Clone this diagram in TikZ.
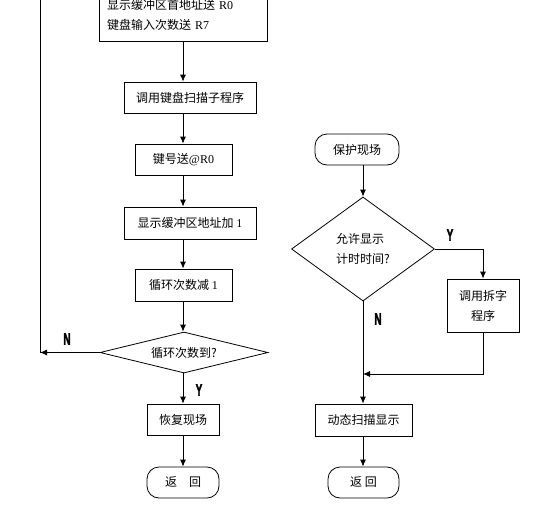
\documentclass[tikz,border=0pt]{standalone}
\usepackage{fontspec}
\setmainfont{Liberation Serif}
\newfontfamily\cjk{Noto Sans CJK SC}
\newfontfamily\ynfont[FakeStretch=0.6,FakeBold=1.5]{Liberation Sans Bold}
\usetikzlibrary{shapes.geometric,arrows.meta}

\begin{document}
\begin{tikzpicture}[
    x=1pt,
    y=-1pt,
    line width=0.8pt,
    every node/.style={font=\cjk\fontsize{12}{20}\selectfont},
    boite/.style={draw, rectangle, inner sep=0pt, align=center},
    arrondi/.style={draw, rectangle, rounded corners=12pt, inner sep=0pt},
    losange/.style={draw, diamond, inner sep=0pt, align=center},
    fleche/.style={-{Latex[length=7pt,width=6pt]}},
    rep/.style={font=\ynfont\fontsize{17}{17}\selectfont}
]
    \useasboundingbox (0,0) rectangle (534,506);
    \clip (0,0) rectangle (534,506);

    % Colonne gauche : boucle de saisie clavier
    \node[boite, minimum height=52pt, text width=152pt, inner xsep=8pt, align=left] (init) at (183,15)
        {显示缓冲区首地址送 {\rmfamily R0}\\键盘输入次数送 {\rmfamily R7}};
    \node[boite, minimum width=132pt, minimum height=31pt] (scan) at (190,97.5) {调用键盘扫描子程序};
    \node[boite, minimum width=97pt, minimum height=31pt] (code) at (183.5,159.5) {键号送{\rmfamily @R0}};
    \node[boite, minimum width=132pt, minimum height=32pt] (incr) at (190,223) {显示缓冲区地址加 {\rmfamily 1}};
    \node[boite, minimum width=97pt, minimum height=32pt] (decr) at (183.5,285) {循环次数减 {\rmfamily 1}};
    \node[losange, aspect=4.1, minimum width=168pt, minimum height=41pt] (fin) at (184,352.5) {循环次数到?};
    \node[boite, minimum width=72pt, minimum height=31pt] (rest) at (183,419.5) {恢复现场};
    \node[arrondi, minimum width=72pt, minimum height=31pt] (ret1) at (183,482.5) {返\quad 回};

    % Colonne droite : interruption d'affichage
    \node[arrondi, minimum width=84pt, minimum height=31pt] (prot) at (357,149.5) {保护现场};
    \node[losange, aspect=1.4, minimum width=143pt, minimum height=104pt, align=left] (perm) at (363,249) {允许显示\\计时时间?};
    \node[boite, minimum width=72pt, minimum height=53pt] (split) at (483,305.5) {调用拆字\\程序};
    \node[boite, minimum width=97pt, minimum height=32pt] (disp) at (363.5,420) {动态扫描显示};
    \node[arrondi, minimum width=71pt, minimum height=31pt] (ret2) at (363.5,482.5) {返\ 回};

    % Points de passage
    \coordinate (back) at (40,352.5);
    \coordinate (backtop) at (40,-5);
    \coordinate (join) at (363,374);

    % Liaisons colonne gauche
    \draw[fleche] (init.south) -- (init.south |- scan.north);
    \draw[fleche] (init.south |- scan.south) -- (init.south |- code.north);
    \draw[fleche] (init.south |- code.south) -- (init.south |- incr.north);
    \draw[fleche] (init.south |- incr.south) -- (init.south |- decr.north);
    \draw[fleche] (init.south |- decr.south) -- (init.south |- fin.north);
    \draw[fleche] (init.south |- fin.south) -- (init.south |- rest.north);
    \draw[fleche] (init.south |- rest.south) -- (init.south |- ret1.north);
    \draw[fleche] (fin.west) -- (back);
    \draw (back) -- (backtop);

    % Liaisons colonne droite
    \draw[fleche] (perm.north |- prot.south) -- (perm.north);
    \draw[fleche] (perm.east) -| (split.north);
    \draw[fleche] (split.south) |- (join);
    \draw[fleche] (perm.south) -- (perm.south |- disp.north);
    \draw[fleche] (perm.south |- disp.south) -- (perm.south |- ret2.north);

    % Reponses
    \node[rep] (n1) at (67,339) {N};
    \node[rep] (y1) at (199,390) {Y};
    \node[rep] (y2) at (450,235) {Y};
    \node[rep] (n2) at (378,319) {N};

\end{tikzpicture}
\end{document}
